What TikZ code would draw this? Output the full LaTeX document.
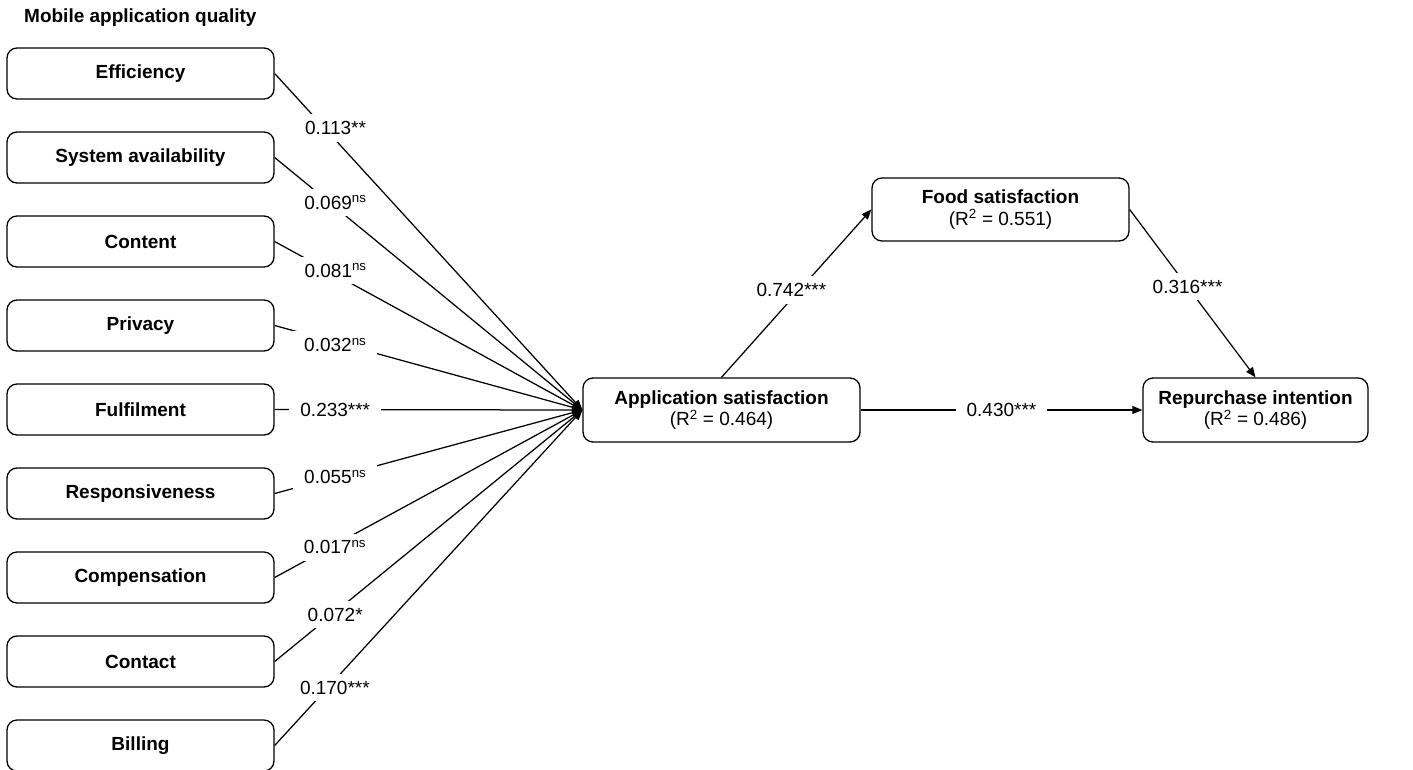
\documentclass[tikz,border=0pt]{standalone}
\usepackage{fontspec}
\setmainfont{Liberation Sans}
\usetikzlibrary{arrows.meta}
\begin{document}
\begin{tikzpicture}[x=1pt,y=-1pt,
  leftbox/.style={draw, line width=1.3pt, rounded corners=10pt, minimum width=267pt, minimum height=51pt, inner sep=0pt, font=\fontsize{19}{21.5}\selectfont\bfseries},
  rbox/.style={draw, line width=1.3pt, rounded corners=10pt, minimum height=64pt, inner sep=0pt, align=center, font=\fontsize{19}{21.5}\selectfont},
  conn/.style={line width=1.25pt, -{Triangle[length=10pt,width=8pt]}},
  lab/.style={fill=white, inner xsep=11pt, inner ysep=7pt, font=\fontsize{19}{21.5}\selectfont}
]
\useasboundingbox (0,0) rectangle (1413,769);
\node[anchor=west, inner sep=0pt, font=\fontsize{19}{21.5}\selectfont\bfseries] (title) at (24,18) {Mobile application quality};

\node[leftbox] (eff)  at (140.5,73.5)  {Efficiency};
\node[leftbox] (sys)  at (140.5,157.5) {System availability};
\node[leftbox] (con)  at (140.5,241.5) {Content};
\node[leftbox] (pri)  at (140.5,325.5) {Privacy};
\node[leftbox] (ful)  at (140.5,409.5) {Fulfilment};
\node[leftbox] (res)  at (140.5,493.5) {Responsiveness};
\node[leftbox] (comp) at (140.5,577.5) {Compensation};
\node[leftbox] (cont) at (140.5,661.5) {Contact};
\node[leftbox] (bill) at (140.5,745.5) {Billing};

\node[rbox, minimum width=277pt] (app) at (721.5,410) {\textbf{Application satisfaction}\\(R\textsuperscript{2} = 0.464)};
\node[rbox, minimum width=257pt, minimum height=63pt] (food) at (1000.5,209.5) {\textbf{Food satisfaction}\\(R\textsuperscript{2} = 0.551)};
\node[rbox, minimum width=225pt] (rep) at (1255.5,410) {\textbf{Repurchase intention}\\(R\textsuperscript{2} = 0.486)};

\draw[conn] (eff.east) -- (app.west) node[lab, pos=0.162, xshift=11pt] (l1) {0.113**};
\draw[conn] (sys.east) -- (app.west) node[lab, pos=0.178, xshift=6pt] (l2) {0.069\textsuperscript{ns}};
\draw[conn] (con.east) -- (app.west) node[lab, pos=0.172, xshift=8pt] (l3) {0.081\textsuperscript{ns}};
\draw[conn] (pri.east) -- (app.west) node[lab, pos=0.197, yshift=-3pt] (l4) {0.032\textsuperscript{ns}};
\draw[conn] (ful.east) -- (app.west) node[lab, pos=0.197] (l5) {0.233***};
\draw[conn] (res.east) -- (app.west) node[lab, pos=0.197] (l6) {0.055\textsuperscript{ns}};
\draw[conn] (comp.east) -- (app.west) node[lab, pos=0.18, xshift=5pt] (l7) {0.017\textsuperscript{ns}};
\draw[conn] (cont.east) -- (app.west) node[lab, pos=0.187, xshift=3pt] (l8) {0.072*};
\draw[conn] (bill.east) -- (app.west) node[lab, pos=0.173, xshift=7pt] (l9) {0.170***};

\draw[conn] (app.north) -- (food.west) node[lab, pos=0.52, xshift=-8pt] (l10) {0.742***};
\draw[conn] (food.east) -- (rep.north) node[lab, pos=0.46] (l11) {0.316***};
\draw[conn] (app.east) -- (rep.west) node[lab, pos=0.5] (l12) {0.430***};
\end{tikzpicture}
\end{document}
